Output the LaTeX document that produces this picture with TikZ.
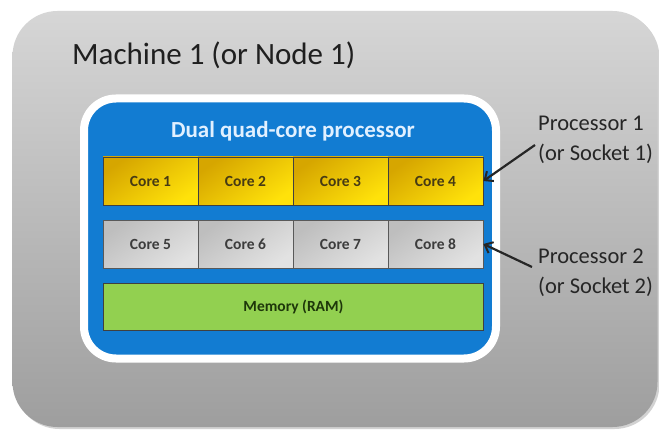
\documentclass[tikz,border=0pt]{standalone}
\usepackage{fontspec}
\setmainfont{Carlito}
\usetikzlibrary{arrows.meta,shadows}
\definecolor{bgtop}{RGB}{214,214,214}
\definecolor{bgbot}{RGB}{158,158,158}
\definecolor{cpublue}{RGB}{18,124,210}
\definecolor{ydark}{RGB}{214,166,0}
\definecolor{ylight}{RGB}{255,226,10}
\definecolor{gdark}{RGB}{190,190,190}
\definecolor{glight}{RGB}{226,226,226}
\definecolor{memgreen}{RGB}{146,208,80}
\definecolor{celltxt}{RGB}{70,58,20}
\definecolor{celltxtg}{RGB}{60,60,60}
\definecolor{memtxt}{RGB}{30,55,10}
\definecolor{titletxt}{RGB}{225,240,255}
\tikzset{
  bgbox/.style={rounded corners=45pt, top color=bgtop, bottom color=bgbot, draw=none,
    drop shadow={shadow xshift=2pt, shadow yshift=-2pt, opacity=0.35}},
  cpubox/.style={rounded corners=32pt, fill=cpublue, draw=white, line width=8pt,
    drop shadow={shadow xshift=2pt, shadow yshift=-3pt, opacity=0.3}},
  ycell/.style={minimum width=95pt, minimum height=48pt, inner sep=0pt, draw=black!75, line width=0.8pt,
    top color=ydark, bottom color=ylight, shading angle=35,
    font=\fontsize{15.5}{18}\selectfont\bfseries, text=celltxt},
  gcell/.style={minimum width=95pt, minimum height=48pt, inner sep=0pt, draw=black!65, line width=0.8pt,
    top color=gdark, bottom color=glight, shading angle=35,
    font=\fontsize{15.5}{18}\selectfont\bfseries, text=celltxtg},
  membox/.style={minimum width=380pt, minimum height=47pt, inner sep=0pt, draw=black!75, line width=0.8pt,
    fill=memgreen, font=\fontsize{15.5}{18}\selectfont\bfseries, text=memtxt},
  sidelabel/.style={anchor=west, inner sep=0pt, align=left, font=\fontsize{22.5}{30}\selectfont, text=black!85},
  pointer/.style={line width=2.2pt, black!85, -{Straight Barb[length=7pt,width=12pt,line width=2pt]}}
}
\begin{document}
\begin{tikzpicture}[x=1pt,y=-1pt]
\useasboundingbox (0,0) rectangle (659,433);
\fill[white] (0,0) rectangle (659,433);
\node[bgbox, minimum width=645pt, minimum height=416pt] (machine) at (335,219) {};
\node[anchor=base west, inner sep=0pt, font=\fontsize{31}{36}\selectfont, text=black!88] (mtitle) at (72,65) {Machine 1 (or Node 1)};
\node[cpubox, minimum width=412pt, minimum height=260pt] (cpu) at (290,228.5) {};
\node[anchor=base, inner sep=0pt, font=\fontsize{23}{28}\selectfont\bfseries, text=titletxt] (ctitle) at (293,138) {Dual quad-core processor};
\node[ycell] (c1) at (150.5,181) {Core 1};
\node[ycell] (c2) at (245.5,181) {Core 2};
\node[ycell] (c3) at (340.5,181) {Core 3};
\node[ycell] (c4) at (435.5,181) {Core 4};
\node[gcell] (c5) at (150.5,244) {Core 5};
\node[gcell] (c6) at (245.5,244) {Core 6};
\node[gcell] (c7) at (340.5,244) {Core 7};
\node[gcell] (c8) at (435.5,244) {Core 8};
\node[membox] (mem) at (293.5,306.5) {Memory (RAM)};
\node[sidelabel] (p1) at (538,140) {Processor 1\\(or Socket 1)};
\node[sidelabel] (p2) at (538,273) {Processor 2\\(or Socket 2)};
\draw[pointer] ([shift={(-3,5)}]p1.west) -- (c4.east);
\draw[pointer] ([shift={(-6,-6)}]p2.west) -- (c8.east);
\end{tikzpicture}
\end{document}
